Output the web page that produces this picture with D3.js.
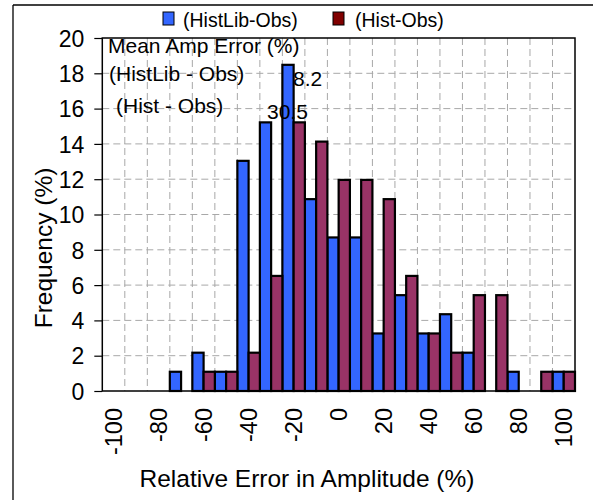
<!DOCTYPE html>
<html><head><meta charset="utf-8">
<script src="https://cdn.jsdelivr.net/npm/d3@7"></script>
<style>
body{margin:0;background:#fff;}
text{font-family:"Liberation Sans",Arial,sans-serif;fill:#000;}
</style></head>
<body>
<svg id="c" width="593" height="500"></svg>
<script>
const categories = [-100,-90,-80,-70,-60,-50,-40,-30,-20,-10,0,10,20,30,40,50,60,70,80,90,100];
const histLibObs = [0,0,0,1.09,2.17,1.09,13.04,15.22,18.48,10.87,8.70,8.70,3.26,5.43,3.26,4.35,2.17,0,1.09,0,1.09];
const histObs    = [0,0,0,0,1.09,1.09,2.17,6.52,15.22,14.13,11.96,11.96,10.87,6.52,3.26,2.17,5.43,5.43,0,1.09,1.09];
const seriesNames = ["(HistLib-Obs)","(Hist-Obs)"];
const barColors = ["#3366FF","#993366"];
const legendColors = ["#3366FF","#800000"];
const xTickLabels = [-100,-80,-60,-40,-20,0,20,40,60,80,100];
const yTicks = [0,2,4,6,8,10,12,14,16,18,20];
const meanErrors = ["8.2","30.5"];

const svg = d3.select("#c");
const L=102.3, R=575, T=38, B=391;

// outer frame
svg.append("line").attr("x1",13).attr("x2",593).attr("y1",5).attr("y2",5).attr("stroke","#000").attr("stroke-width",1.3);
svg.append("line").attr("x1",13).attr("x2",13).attr("y1",5).attr("y2",500).attr("stroke","#000").attr("stroke-width",1.3);

const x = d3.scaleBand().domain(categories).range([L,R]).padding(0);
const xs = d3.scaleBand().domain([0,1]).range([0,x.bandwidth()]).padding(0);
const y = d3.scaleLinear().domain([0,20]).range([B,T]);

// grid
const g = svg.append("g");
categories.slice(1).forEach(c=>{
  g.append("line").attr("x1",x(c)).attr("x2",x(c)).attr("y1",T).attr("y2",B)
   .attr("stroke","#a8a8a8").attr("stroke-width",1).attr("stroke-dasharray","7,4");
});
yTicks.filter(v=>v>0&&v<20).forEach(v=>{
  g.append("line").attr("x1",L).attr("x2",R).attr("y1",y(v)).attr("y2",y(v))
   .attr("stroke","#a8a8a8").attr("stroke-width",1).attr("stroke-dasharray","7,4");
});

// bars
[histLibObs,histObs].forEach((vals,si)=>{
  svg.append("g").selectAll("rect").data(categories.map((c,i)=>({c,v:vals[i]})).filter(d=>d.v>0))
   .join("rect")
   .attr("x",d=>x(d.c)+xs(si)).attr("width",xs.bandwidth())
   .attr("y",d=>y(d.v)).attr("height",d=>B-y(d.v))
   .attr("fill",barColors[si]).attr("stroke","#000").attr("stroke-width",2.2);
});

// plot border
svg.append("rect").attr("x",L).attr("y",T).attr("width",R-L).attr("height",B-T)
  .attr("fill","none").attr("stroke","#000").attr("stroke-width",1.5);

// y axis
const ya = svg.append("g").attr("transform",`translate(${L},0)`)
  .call(d3.axisLeft(y).tickValues(yTicks).tickSize(8).tickPadding(10).tickFormat(d3.format("d")));
ya.select(".domain").remove();
ya.selectAll("line").attr("stroke","#000").attr("stroke-width",1.2);
ya.selectAll("text").style("font-size","23px").attr("font-family","Liberation Sans, Arial, sans-serif").attr("dy","0.36em");

// x axis labels
const xa = svg.append("g").attr("transform",`translate(0,${B})`)
  .call(d3.axisBottom(x).tickValues(xTickLabels).tickSize(0).tickFormat(d=>String(d)));
xa.select(".domain").remove();
xa.selectAll("text").style("font-size","23.5px").attr("font-family","Liberation Sans, Arial, sans-serif")
  .attr("text-anchor","end").attr("transform","rotate(-90)")
  .attr("x",-17).attr("y",0).attr("dy","0.36em");

// axis titles
svg.append("text").attr("x",307).attr("y",487).attr("text-anchor","middle").style("font-size","24.5px")
  .text("Relative Error in Amplitude (%)");
svg.append("text").attr("transform","translate(52,248) rotate(-90)").attr("text-anchor","middle").style("font-size","24.5px")
  .text("Frequency (%)");

// annotations
const ann = svg.append("g").style("font-size","21px");
ann.append("text").attr("x",108).attr("y",53).text("Mean Amp Error (%)");
ann.append("text").attr("x",109).attr("y",81).text("(HistLib - Obs)");
ann.append("text").attr("x",116).attr("y",113).text("(Hist - Obs)");
ann.append("text").attr("x",293).attr("y",86).text(meanErrors[0]);
ann.append("text").attr("x",267).attr("y",119).text(meanErrors[1]);

// legend
const lg = svg.append("g");
const lx = [163,333], tx=[183,355];
seriesNames.forEach((n,i)=>{
  lg.append("rect").attr("x",lx[i]).attr("y",12).attr("width",11).attr("height",13)
    .attr("fill",legendColors[i]).attr("stroke","#000").attr("stroke-width",1);
  lg.append("text").attr("x",tx[i]).attr("y",27).style("font-size","19.5px").text(n);
});
</script>
</body></html>
